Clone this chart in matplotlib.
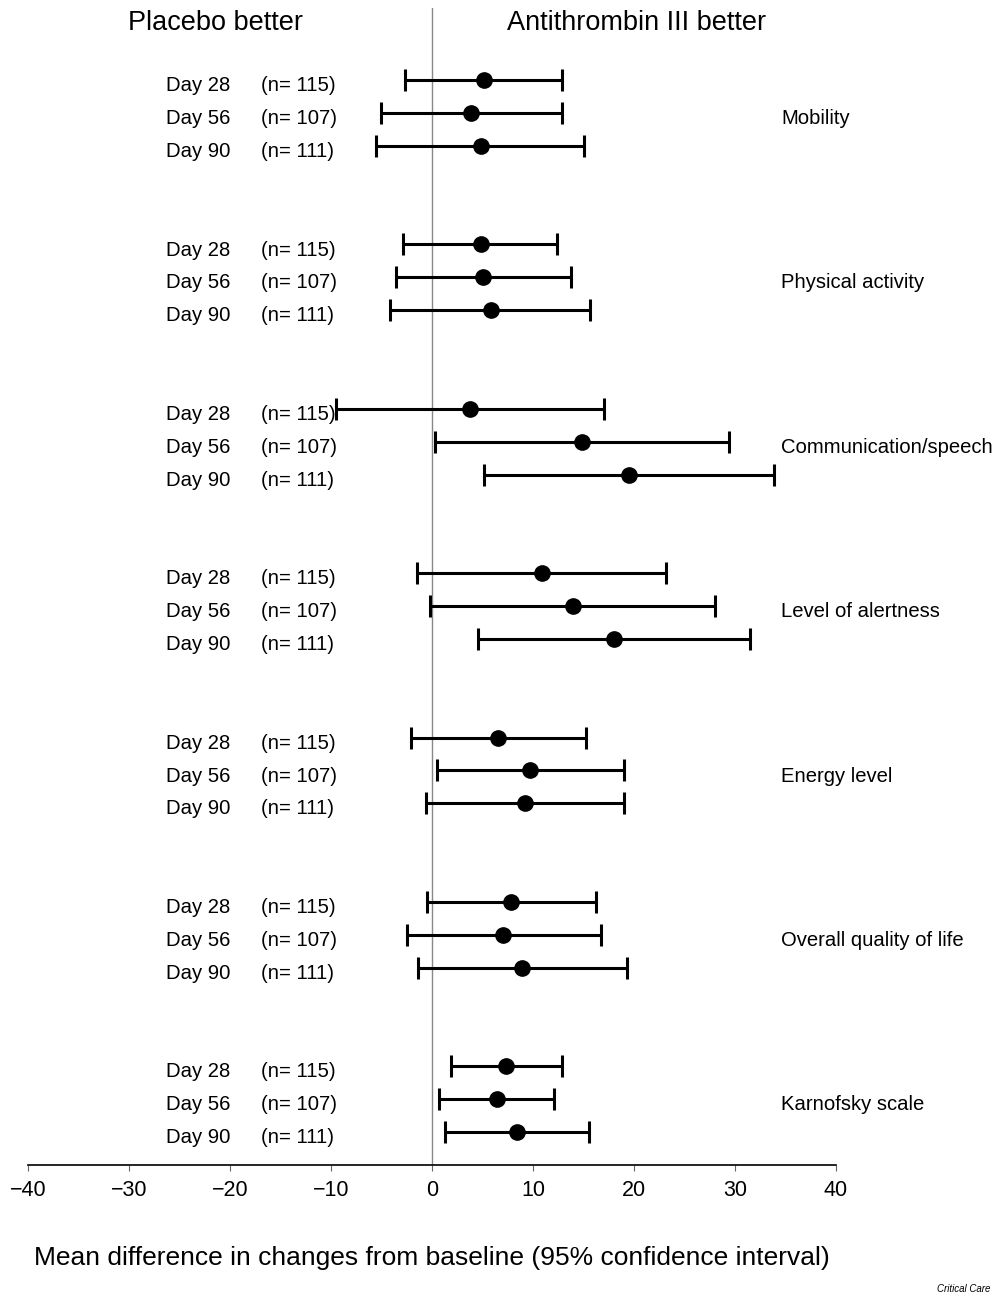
import matplotlib
matplotlib.use("Agg")
import matplotlib.pyplot as plt
import numpy as np

plt.rcParams['font.family'] = ['Liberation Sans', 'DejaVu Sans']

outcomes = ["Mobility", "Physical activity", "Communication/speech",
            "Level of alertness", "Energy level", "Overall quality of life",
            "Karnofsky scale"]
days = ["Day 28", "Day 56", "Day 90"]
n_labels = ["(n= 115)", "(n= 107)", "(n= 111)"]

means = [
    [5.15, 3.86, 4.85],
    [4.85, 5.05, 5.84],
    [3.76, 14.85, 19.5],
    [10.9, 13.96, 18.0],
    [6.53, 9.7, 9.2],
    [7.8, 7.0, 8.9],
    [7.3, 6.4, 8.4],
]
lower = [
    [-2.67, -5.05, -5.54],
    [-2.87, -3.56, -4.16],
    [-9.5, 0.3, 5.15],
    [-1.49, -0.2, 4.55],
    [-2.08, 0.5, -0.6],
    [-0.5, -2.5, -1.4],
    [1.9, 0.7, 1.3],
]
upper = [
    [12.87, 12.87, 15.05],
    [12.38, 13.76, 15.64],
    [17.03, 29.4, 33.86],
    [23.17, 28.0, 31.5],
    [15.25, 19.0, 19.0],
    [16.2, 16.7, 19.3],
    [12.9, 12.1, 15.5],
]
xticks = [-40, -30, -20, -10, 0, 10, 20, 30, 40]

fig = plt.figure(figsize=(10, 12.94), dpi=100)
ax = fig.add_axes([0.028, 0.0997, 0.808, 0.8943])

fs = 14.6
dy = 0.17
for g, name in enumerate(outcomes):
    for r in range(3):
        y = g * 5 + r
        m = means[g][r]
        lo = lower[g][r]
        hi = upper[g][r]
        ax.errorbar([m], [y], xerr=[[m - lo], [hi - m]], fmt='o', color='black',
                    ms=11, elinewidth=2.2, capsize=8, capthick=2.2, zorder=3)
        ax.text(-26.3, y + dy, days[r], fontsize=fs, va='center', ha='left')
        ax.text(-16.9, y + dy, n_labels[r], fontsize=fs, va='center', ha='left')
    ax.text(34.55, g * 5 + 1 + dy, name, fontsize=fs, va='center', ha='left')

ax.axvline(0, color='#888888', lw=1.0, zorder=1)
ax.set_xlim(-40, 40)
ax.set_ylim(33, -2.2)
ax.set_yticks([])
for s in ['top', 'right', 'left']:
    ax.spines[s].set_visible(False)
ax.spines['bottom'].set_linewidth(1.2)
ax.set_xticks(xticks)
ax.set_xticklabels(["\u2212" + str(-t) if t < 0 else str(t) for t in xticks], fontsize=15.5)
ax.tick_params(axis='x', direction='out', length=4, width=0.8, color='#666666', pad=7)

ax.text(-21.4, -1.75, "Placebo better", fontsize=19.5, ha='center', va='center')
ax.text(20.3, -1.75, "Antithrombin III better", fontsize=19.5, ha='center', va='center')

fig.text(0.432, 1 - 1258 / 1294, "Mean difference in changes from baseline (95% confidence interval)",
         fontsize=19, ha='center', va='center')
fig.text(0.99, 1 - 1289 / 1294, "Critical Care", fontsize=7, style='italic', ha='right', va='center')

fig.savefig("out.png", dpi=100)
